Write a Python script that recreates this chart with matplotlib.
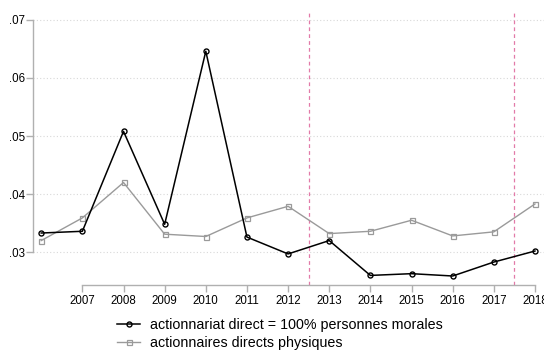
import matplotlib.pyplot as plt
import matplotlib.ticker as mticker

plt.rcParams['font.family'] = ['Liberation Sans', 'DejaVu Sans']

years = [2006, 2007, 2008, 2009, 2010, 2011, 2012, 2013, 2014, 2015, 2016, 2017, 2018]
morales = [.0333, .0336, .0508, .0348, .0646, .0326, .0297, .0320, .0260, .0263, .0259, .0283, .0302]
physiques = [.0320, .0359, .0420, .0331, .0327, .0359, .0379, .0332, .0336, .0355, .0328, .0335, .0383]
xticks = list(range(2007, 2019))
yticks = [.03, .04, .05, .06, .07]
vlines = [2012.5, 2017.5]
labels = ['actionnariat direct = 100% personnes morales', 'actionnaires directs physiques']

fig = plt.figure(figsize=(5.44, 3.51), dpi=100)
ax = fig.add_axes([33/544, 1-285/351, 1-33/544, 275/351])

for y in yticks:
    ax.axhline(y, color='#d8d8d8', lw=0.8, ls=(0, (1, 2)), zorder=0)
for v in vlines:
    ax.axvline(v, color='#e27aa8', lw=0.9, ls=(0, (3, 2.5)), zorder=1)

ax.plot(years, morales, color='black', lw=1.1, marker='o', ms=3.6,
        mfc='none', mec='black', mew=1.0, label=labels[0], zorder=3)
ax.plot(years, physiques, color='#9a9a9a', lw=1.0, marker='s', ms=3.6,
        mfc='none', mec='#9a9a9a', mew=0.9, label=labels[1], zorder=2)

ax.set_xlim(2005.8, 2018.22)
ax.set_ylim(0.02435, 0.0717)
ax.set_xticks(xticks)
ax.set_yticks(yticks)
ax.yaxis.set_major_formatter(mticker.FuncFormatter(lambda v, p: ('%.2f' % v).lstrip('0')))

for s in ['top', 'right']:
    ax.spines[s].set_visible(False)
ax.spines['left'].set_bounds(.03, .07)
ax.spines['bottom'].set_bounds(2007, 2018)
for s in ['left', 'bottom']:
    ax.spines[s].set_color('#b0b0b0')
    ax.spines[s].set_linewidth(1.0)
ax.tick_params(axis='both', colors='#b0b0b0', labelcolor='black', labelsize=8.3, length=5, width=1.0)
ax.tick_params(axis='x', pad=2)
ax.tick_params(axis='y', pad=1)
ax.patch.set_visible(False)

fig.legend(loc='center', bbox_to_anchor=(0.515, 0.048), frameon=False, fontsize=10.3,
           handlelength=1.6, handletextpad=0.7, labelspacing=0.3)

fig.savefig('out.png', dpi=100)
